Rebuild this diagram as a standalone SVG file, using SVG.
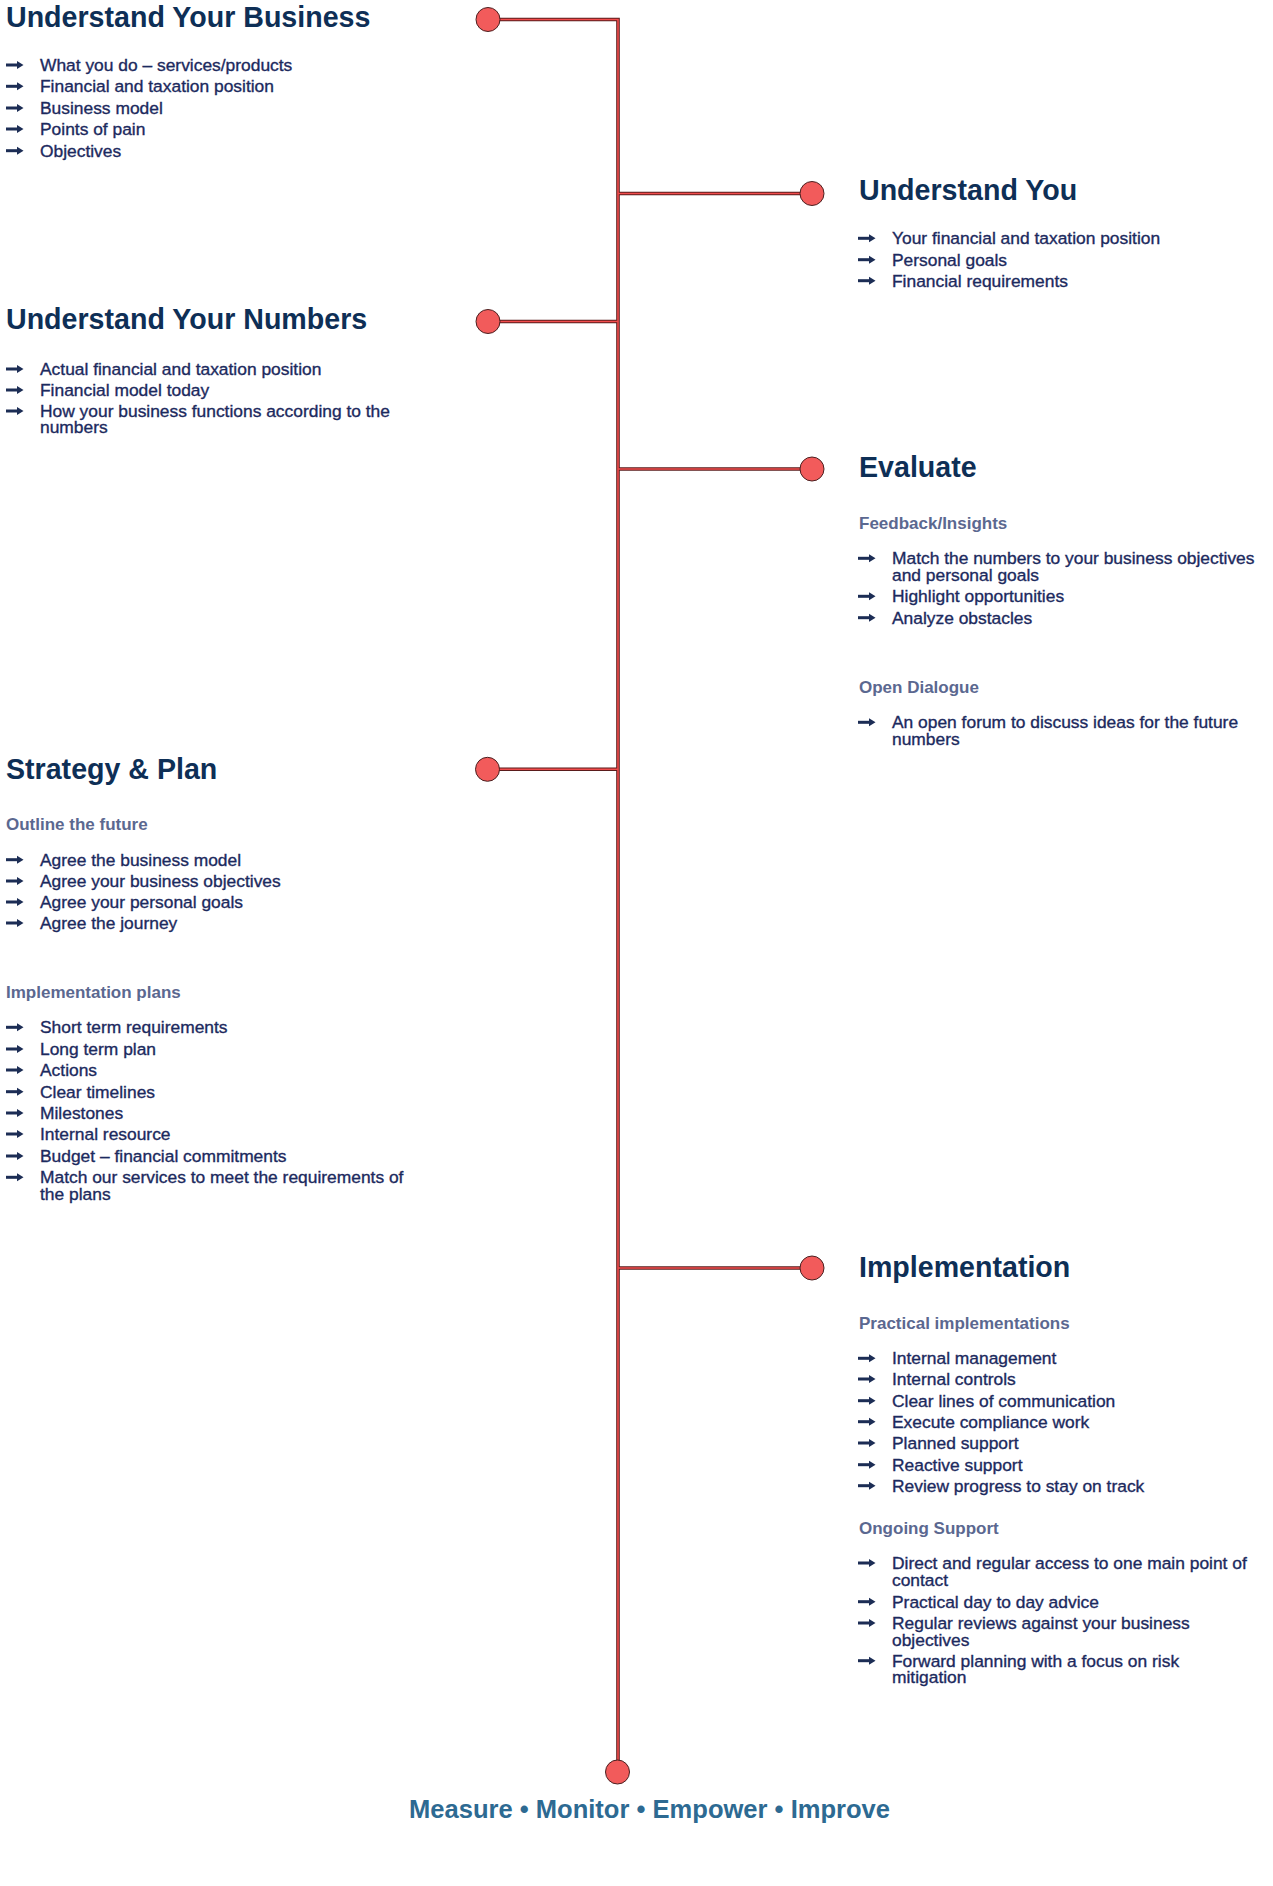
<svg xmlns="http://www.w3.org/2000/svg" xmlns:xlink="http://www.w3.org/1999/xlink" width="1273" height="1886" viewBox="0 0 1273 1886">
<style>
.h{font-family:"Liberation Sans",Arial,sans-serif;font-weight:bold;font-size:28.6px;fill:#0e2f56}
.s{font-family:"Liberation Sans",Arial,sans-serif;font-weight:bold;font-size:17px;fill:#5b6890}
.b{font-family:"Liberation Sans",Arial,sans-serif;font-size:17.4px;fill:#1c2a5e;stroke:#1c2a5e;stroke-width:0.35}
.ft{font-family:"Liberation Sans",Arial,sans-serif;font-weight:bold;font-size:25px;fill:#2d6a92}
.ln-o{stroke:#5a1c1c;stroke-width:3.6;fill:none}
.ln-i{stroke:#f24c4c;stroke-width:1.6;fill:none}
.dot{fill:#f25b5b;stroke:#4a2020;stroke-width:1}
</style>
<defs>
<g id="arr" fill="#1c2d55"><rect x="0" y="-1.5" width="12" height="3"/><polygon points="11,-4 17.5,0 11,4"/></g>
</defs>
<rect width="1273" height="1886" fill="#ffffff"/>
<g id="connectors">
<path class="ln-o" d="M488,19.5 H618 V1762 M618,193.5 H812 M618,321.5 H488 M618,469 H812 M618,769.3 H488 M618,1268 H812"/>
<path class="ln-i" d="M488,19.5 H618 V1762 M618,193.5 H812 M618,321.5 H488 M618,469 H812 M618,769.3 H488 M618,1268 H812"/>
</g>
<g id="node-business">
<circle class="dot" cx="488" cy="19.5" r="12"/>
<text class="h" x="6" y="26.7">Understand Your Business</text>
<use xlink:href="#arr" x="6" y="65"/><text class="b" x="40" y="71">What you do – services/products</text>
<use xlink:href="#arr" x="6" y="86.3"/><text class="b" x="40" y="92.3">Financial and taxation position</text>
<use xlink:href="#arr" x="6" y="108"/><text class="b" x="40" y="114">Business model</text>
<use xlink:href="#arr" x="6" y="129"/><text class="b" x="40" y="135">Points of pain</text>
<use xlink:href="#arr" x="6" y="150.7"/><text class="b" x="40" y="156.7">Objectives</text>
</g>
<g id="node-you">
<circle class="dot" cx="812" cy="193.5" r="12"/>
<text class="h" x="859" y="200">Understand You</text>
<use xlink:href="#arr" x="858" y="238.3"/><text class="b" x="892" y="244.3">Your financial and taxation position</text>
<use xlink:href="#arr" x="858" y="259.7"/><text class="b" x="892" y="265.7">Personal goals</text>
<use xlink:href="#arr" x="858" y="280.7"/><text class="b" x="892" y="286.7">Financial requirements</text>
</g>
<g id="node-numbers">
<circle class="dot" cx="488" cy="321.5" r="12"/>
<text class="h" x="6" y="329.3">Understand Your Numbers</text>
<use xlink:href="#arr" x="6" y="369"/><text class="b" x="40" y="375">Actual financial and taxation position</text>
<use xlink:href="#arr" x="6" y="390"/><text class="b" x="40" y="396">Financial model today</text>
<use xlink:href="#arr" x="6" y="411"/><text class="b" x="40" y="417">How your business functions according to the</text>
<text class="b" x="40" y="433.3">numbers</text>
</g>
<g id="node-evaluate">
<circle class="dot" cx="812" cy="469" r="12"/>
<text class="h" x="859" y="476.7">Evaluate</text>
<text class="s" x="859" y="529.3">Feedback/Insights</text>
<use xlink:href="#arr" x="858" y="558.3"/><text class="b" x="892" y="564.3">Match the numbers to your business objectives</text>
<text class="b" x="892" y="581">and personal goals</text>
<use xlink:href="#arr" x="858" y="596.3"/><text class="b" x="892" y="602.3">Highlight opportunities</text>
<use xlink:href="#arr" x="858" y="617.7"/><text class="b" x="892" y="623.7">Analyze obstacles</text>
<text class="s" x="859" y="693.3">Open Dialogue</text>
<use xlink:href="#arr" x="858" y="722.3"/><text class="b" x="892" y="728.3">An open forum to discuss ideas for the future</text>
<text class="b" x="892" y="745">numbers</text>
</g>
<g id="node-strategy">
<circle class="dot" cx="487.5" cy="769.3" r="12"/>
<text class="h" x="6" y="779.3">Strategy &amp; Plan</text>
<text class="s" x="6" y="830">Outline the future</text>
<use xlink:href="#arr" x="6" y="859.7"/><text class="b" x="40" y="865.7">Agree the business model</text>
<use xlink:href="#arr" x="6" y="881"/><text class="b" x="40" y="887">Agree your business objectives</text>
<use xlink:href="#arr" x="6" y="902"/><text class="b" x="40" y="908">Agree your personal goals</text>
<use xlink:href="#arr" x="6" y="923"/><text class="b" x="40" y="929">Agree the journey</text>
<text class="s" x="6" y="998.3">Implementation plans</text>
<use xlink:href="#arr" x="6" y="1027.3"/><text class="b" x="40" y="1033.3">Short term requirements</text>
<use xlink:href="#arr" x="6" y="1049"/><text class="b" x="40" y="1055">Long term plan</text>
<use xlink:href="#arr" x="6" y="1070"/><text class="b" x="40" y="1076">Actions</text>
<use xlink:href="#arr" x="6" y="1091.7"/><text class="b" x="40" y="1097.7">Clear timelines</text>
<use xlink:href="#arr" x="6" y="1113"/><text class="b" x="40" y="1119">Milestones</text>
<use xlink:href="#arr" x="6" y="1134"/><text class="b" x="40" y="1140">Internal resource</text>
<use xlink:href="#arr" x="6" y="1156"/><text class="b" x="40" y="1162">Budget – financial commitments</text>
<use xlink:href="#arr" x="6" y="1177.3"/><text class="b" x="40" y="1183.3">Match our services to meet the requirements of</text>
<text class="b" x="40" y="1200">the plans</text>
</g>
<g id="node-implementation">
<circle class="dot" cx="812" cy="1268" r="12"/>
<text class="h" x="859" y="1276.7">Implementation</text>
<text class="s" x="859" y="1329.3">Practical implementations</text>
<use xlink:href="#arr" x="858" y="1358.3"/><text class="b" x="892" y="1364.3">Internal management</text>
<use xlink:href="#arr" x="858" y="1379"/><text class="b" x="892" y="1385">Internal controls</text>
<use xlink:href="#arr" x="858" y="1400.7"/><text class="b" x="892" y="1406.7">Clear lines of communication</text>
<use xlink:href="#arr" x="858" y="1421.7"/><text class="b" x="892" y="1427.7">Execute compliance work</text>
<use xlink:href="#arr" x="858" y="1443"/><text class="b" x="892" y="1449">Planned support</text>
<use xlink:href="#arr" x="858" y="1464.7"/><text class="b" x="892" y="1470.7">Reactive support</text>
<use xlink:href="#arr" x="858" y="1485.7"/><text class="b" x="892" y="1491.7">Review progress to stay on track</text>
<text class="s" x="859" y="1534">Ongoing Support</text>
<use xlink:href="#arr" x="858" y="1563"/><text class="b" x="892" y="1569">Direct and regular access to one main point of</text>
<text class="b" x="892" y="1585.7">contact</text>
<use xlink:href="#arr" x="858" y="1601.7"/><text class="b" x="892" y="1607.7">Practical day to day advice</text>
<use xlink:href="#arr" x="858" y="1623"/><text class="b" x="892" y="1629">Regular reviews against your business</text>
<text class="b" x="892" y="1645.7">objectives</text>
<use xlink:href="#arr" x="858" y="1660.7"/><text class="b" x="892" y="1666.7">Forward planning with a focus on risk</text>
<text class="b" x="892" y="1683.3">mitigation</text>
</g>
<g id="node-end">
<circle class="dot" cx="617.5" cy="1772" r="12"/>
<text class="ft" x="409" y="1818.3" textLength="481" lengthAdjust="spacingAndGlyphs">Measure • Monitor • Empower • Improve</text>
</g>
</svg>
